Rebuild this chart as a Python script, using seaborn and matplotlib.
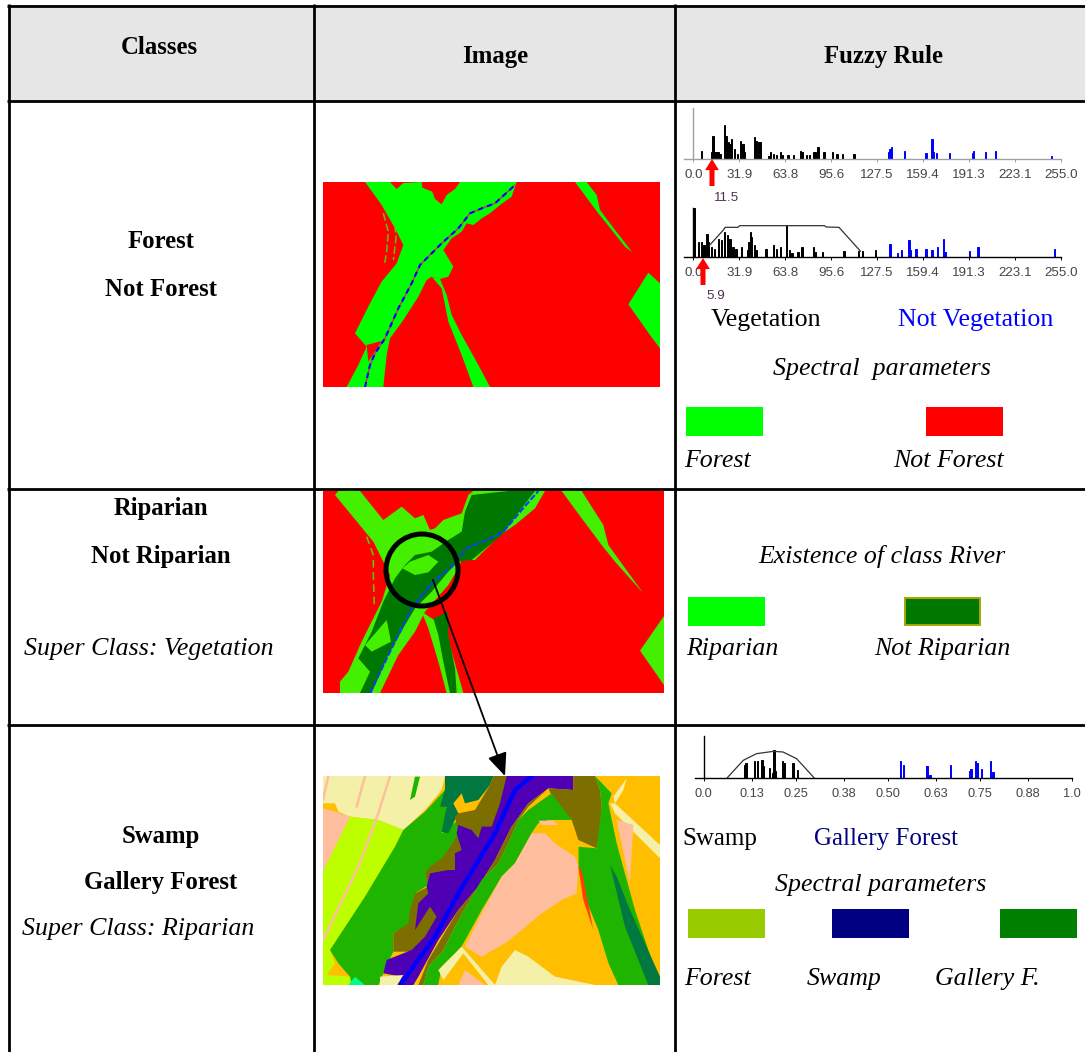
import matplotlib
matplotlib.use("Agg")
import matplotlib.pyplot as plt
from matplotlib.patches import Rectangle, Circle, FancyArrowPatch
from matplotlib.transforms import ScaledTranslation
import seaborn as sb

W, H = 1085, 1052

# histogram values
hist1_black_x = [5, 12, 13, 14, 15, 16, 17, 18, 21, 22, 23, 24, 25, 26, 28, 30, 32, 34, 35, 42, 43, 45, 46,
                 52, 53, 55, 57, 60, 61, 65, 69, 74, 75, 78, 80, 83, 84, 86, 90, 96, 99, 103, 111]
hist1_black_y = [25, 20, 70, 20, 20, 20, 20, 15, 100, 70, 45, 50, 45, 60, 30, 15, 55, 45, 20, 65, 55, 50, 50,
                 10, 20, 15, 12, 22, 12, 12, 12, 25, 22, 12, 12, 20, 22, 35, 22, 20, 14, 15, 14]
hist1_blue_x = [135, 136, 137, 146, 161, 165, 166, 168, 177, 193, 194, 202, 209, 248]
hist1_blue_y = [20, 30, 35, 25, 18, 60, 20, 18, 18, 18, 25, 22, 25, 10]

hist2_black_x = [0, 3, 5, 7, 9, 10, 12, 14, 17, 19, 21, 23, 25, 27, 29, 33, 37, 38, 39, 40, 42, 43,
                 50, 55, 57, 60, 64, 66, 68, 72, 75, 83, 84, 89, 104, 114, 117, 126]
hist2_black_y = [147, 45, 45, 35, 70, 45, 30, 25, 55, 50, 75, 65, 55, 30, 25, 30, 20, 45, 75, 60, 35, 20,
                 25, 35, 25, 30, 95, 20, 12, 15, 30, 30, 15, 15, 18, 18, 18, 22]
hist2_blue_x = [136, 141, 144, 149, 150, 154, 161, 165, 169, 173, 174, 191, 197, 250]
hist2_blue_y = [40, 12, 20, 50, 20, 25, 25, 20, 30, 55, 15, 18, 30, 25]
fuzzy2_x = [11, 21, 22, 31, 32, 91, 92, 101, 116]
fuzzy2_y = [34, 82, 89, 89, 94, 94, 90, 89, 17]

hist3_black_x = [.11, .114, .138, .147, .157, .161, .177, .184, .19, .194, .214, .217, .241, .253]
hist3_black_y = [40, 45, 50, 50, 55, 35, 30, 15, 85, 20, 50, 45, 45, 25]
hist3_blue_x = [.535, .54, .543, .606, .612, .668, .722, .727, .736, .74, .754, .776, .784]
hist3_blue_y = [50, 30, 10, 35, 10, 40, 20, 28, 50, 45, 28, 50, 18]
fuzzy3_x = [.063, .107, .143, .189, .215, .252, .30]
fuzzy3_y = [0, 53, 73, 80, 78, 58, 0]

ticks_255 = [0.0, 31.9, 63.8, 95.6, 127.5, 159.4, 191.3, 223.1, 255.0]
ticks_one = [0.0, 0.13, 0.25, 0.38, 0.50, 0.63, 0.75, 0.88, 1.0]
labels_one = ["0.0", "0.13", "0.25", "0.38", "0.50", "0.63", "0.75", "0.88", "1.0"]

# map regions: (colour, outline)
map1_layers = [
    ("#00ff00", [(150, 21), (225, 21), (245, 42), (265, 24), (320, 21), (322, 38), (352, 50), (360, 72), (380, 88),
                 (395, 60), (420, 42), (435, 21), (605, 21), (590, 65), (555, 90), (525, 115), (500, 130),
                 (475, 150), (455, 145), (440, 170), (410, 190), (385, 225), (415, 275), (400, 305), (375, 312),
                 (350, 305), (335, 315), (310, 365), (265, 435), (225, 490), (215, 540), (205, 636), (95, 636),
                 (130, 570), (155, 515), (120, 475), (165, 385), (200, 320), (245, 265), (265, 210), (240, 160),
                 (200, 90), (175, 55)]),
    ("#00ff00", [(350, 305), (375, 312), (395, 360), (410, 420), (440, 480), (490, 570), (525, 636), (475, 636),
                 (440, 540), (400, 440), (380, 340)]),
    ("#ff0000", [(155, 510), (200, 498), (180, 530), (160, 560)]),
    ("#00ff00", [(780, 21), (815, 21), (845, 60), (855, 105), (900, 165), (952, 232), (930, 215), (850, 115)]),
    ("#00ff00", [(1000, 293), (1035, 325), (1035, 520), (1005, 480), (940, 388)]),
]
map1_river = [(150, 636), (165, 570), (180, 535), (210, 490), (250, 400), (290, 325), (315, 270), (380, 205),
              (430, 160), (465, 115), (500, 100), (540, 85), (600, 30)]
map1_dashes = [[(205, 115), (220, 170), (215, 230), (208, 270)], [(240, 150), (243, 190), (235, 255)]]

map2_layers = [
    ("#44f000", [(60, 30), (70, 18), (135, 18), (205, 105), (260, 65), (300, 100), (325, 90), (345, 135), (360, 130),
                 (385, 105), (440, 85), (460, 30), (475, 18), (690, 18), (660, 70), (600, 120), (555, 150),
                 (480, 225), (440, 225), (430, 250), (400, 300), (330, 380), (300, 440), (250, 510), (195, 624),
                 (75, 624), (75, 590), (100, 560), (140, 470), (200, 350), (225, 270), (175, 170)]),
    ("#44f000", [(320, 380), (350, 400), (385, 420), (410, 500), (445, 624), (395, 624), (370, 530), (340, 430)]),
    ("#007800", [(470, 30), (580, 18), (660, 18), (620, 70), (560, 150), (470, 225), (430, 230), (400, 260),
                 (350, 320), (300, 370), (270, 420), (220, 510), (170, 624), (135, 624), (165, 560), (130, 520),
                 (170, 440), (205, 350), (240, 280), (270, 240), (300, 210), (350, 200), (400, 165), (440, 140),
                 (450, 80)]),
    ("#44f000", [(285, 230), (340, 210), (370, 230), (340, 262), (300, 270), (262, 250)]),
    ("#44f000", [(150, 480), (215, 405), (228, 470), (170, 500)]),
    ("#007800", [(355, 400), (400, 380), (400, 450), (420, 550), (425, 624), (405, 624), (385, 530), (370, 450)]),
    ("#44f000", [(740, 18), (800, 18), (865, 120), (880, 180), (985, 325), (900, 230), (860, 180), (800, 100)]),
    ("#44f000", [(1047, 393), (975, 497), (1047, 600)]),
]
map2_river = [(165, 624), (230, 490), (290, 370), (350, 295), (410, 245), (455, 190), (530, 158), (565, 140),
              (620, 75), (670, 18)]
map2_dashes = [[(155, 155), (175, 210), (175, 270), (178, 365)]]

map3_layers = [
    ("#f5f0a8", [(24, 18), (390, 18), (380, 60), (330, 120), (265, 180), (190, 150), (105, 140), (70, 125), (60, 100),
                 (24, 100)]),
    ("#ffbe9e", [(24, 115), (60, 125), (105, 140), (24, 305)]),
    ("#beff00", [(105, 140), (190, 150), (265, 180), (240, 230), (150, 380), (45, 540), (60, 580), (35, 615),
                 (110, 620), (105, 645), (24, 645), (24, 305)]),
    ("#1eb400", [(45, 540), (150, 380), (240, 230), (265, 180), (330, 125), (390, 60), (395, 120), (380, 190),
                 (430, 150), (450, 140), (440, 200), (420, 240), (330, 310), (340, 345), (300, 370), (285, 460),
                 (235, 490), (235, 545), (205, 610), (190, 645), (110, 645), (105, 620), (70, 580)]),
    ("#1eb400", [(300, 20), (315, 20), (300, 80), (285, 90)]),
    ("#007840", [(390, 18), (535, 18), (525, 45), (490, 90), (450, 100), (440, 70), (415, 100), (430, 130), (400, 190),
                 (380, 185), (395, 110), (375, 110), (390, 60)]),
    # olive band then purple on top of it
    ("#7d6e00", [(535, 18), (600, 18), (540, 190), (430, 370), (350, 500), (290, 545), (235, 545), (235, 490),
                 (280, 460), (285, 420), (300, 370), (340, 350), (330, 310), (345, 290), (380, 265), (400, 240),
                 (430, 190), (420, 140), (430, 130), (480, 120), (525, 45)]),
    ("#5000b4", [(575, 18), (775, 18), (775, 60), (700, 55), (640, 100), (590, 170), (540, 270), (490, 350),
                 (430, 420), (370, 510), (310, 620), (295, 645), (250, 645), (260, 620), (205, 610), (215, 570),
                 (290, 540), (330, 500), (365, 440), (345, 410), (300, 480), (310, 400), (340, 370), (335, 350),
                 (345, 310), (400, 300), (420, 300), (420, 250), (440, 240), (425, 190), (430, 165), (470, 180),
                 (490, 205), (500, 170), (530, 170), (555, 100)]),
    ("#7d6e00", [(700, 55), (640, 110), (610, 150), (580, 220), (550, 280), (500, 330), (465, 390), (420, 470),
                 (385, 540), (340, 590), (325, 645), (310, 645), (340, 570), (400, 470), (430, 420), (490, 350),
                 (540, 270), (590, 170), (640, 100)]),
    ("#7d6e00", [(775, 18), (840, 18), (855, 60), (860, 110), (860, 150), (845, 235), (790, 210), (770, 150),
                 (720, 100), (700, 55), (775, 60)]),
    ("#1eb400", [(840, 18), (890, 70), (880, 100), (905, 220), (960, 420), (1035, 645), (910, 645), (830, 470),
                 (800, 370), (790, 290), (790, 230), (845, 235), (860, 110), (855, 60)]),
    ("#1eb400", [(640, 120), (710, 70), (770, 150), (700, 150), (670, 160), (650, 190), (600, 280), (560, 320),
                 (500, 420), (440, 530), (385, 590), (370, 645), (325, 645), (340, 590), (385, 540), (420, 470),
                 (465, 390), (500, 330), (550, 280), (580, 220), (610, 150)]),
    ("#ffbe00", [(650, 190), (670, 160), (740, 165), (790, 230), (790, 290), (805, 370), (850, 480), (900, 645),
                 (370, 645), (380, 590), (440, 530), (500, 430), (560, 320), (600, 280)]),
    ("#ffbe9e", [(670, 152), (715, 152), (730, 165), (680, 165)]),
    ("#ffbe9e", [(690, 190), (720, 220), (780, 260), (790, 290), (785, 370), (740, 390), (680, 430), (620, 480),
                 (570, 520), (500, 560), (450, 530), (500, 430), (560, 320), (600, 280), (650, 190)]),
    ("#f5f0a8", [(540, 645), (560, 590), (600, 540), (640, 560), (720, 620), (840, 645)]),
    ("#f5f0a8", [(370, 600), (440, 530), (540, 645), (520, 645), (445, 550), (385, 630)]),
    ("#ffbe9e", [(450, 600), (510, 645), (430, 645)]),
    ("#f5f0a8", [(885, 100), (900, 100), (1035, 225), (1035, 265), (900, 130)]),
    ("#f5f0a8", [(895, 80), (935, 25), (925, 60), (900, 100)]),
    ("#ffbe9e", [(905, 150), (955, 165), (945, 340)]),
    ("#ff4000", [(790, 290), (800, 300), (835, 480), (805, 390)]),
    ("#007840", [(885, 285), (905, 320), (945, 420), (1035, 620), (1035, 645), (1000, 645), (930, 470)]),
    ("#f5f0a8", [(195, 620), (265, 615), (245, 645), (195, 645)]),
    ("#00ff80", [(100, 645), (120, 620), (150, 645)]),
]
map3_stripes = [[(40, 18), (24, 90)], [(150, 18), (125, 110)], [(225, 18), (190, 130), (130, 290), (24, 510)]]
map3_river = [(255, 645), (360, 500), (430, 370), (540, 190), (600, 60), (650, 18)]

sb.set_theme(style="white", rc={"axes.grid": False})
plt.rcParams["font.family"] = ["Liberation Serif", "DejaVu Serif"]

fig = plt.figure(figsize=(W / 100, H / 100), dpi=100)


def box_axes(left, top, right, bottom, z=2):
    ax = fig.add_axes([left / W, 1 - bottom / H, (right - left) / W, (bottom - top) / H], zorder=z)
    return ax


def xs_ys(points):
    return [p[0] for p in points], [p[1] for p in points]


page = box_axes(0, 0, W, H, z=1)
page.set_xlim(0, W)
page.set_ylim(H, 0)
page.axis("off")

over = box_axes(0, 0, W, H, z=5)
over.set_xlim(0, W)
over.set_ylim(H, 0)
over.axis("off")

# table frame
page.add_patch(Rectangle((9, 5), W - 9, 96, color="#e6e6e6", lw=0))
for y in (5.5, 101, 489, 725):
    page.plot([7, W], [y, y], color="black", lw=2.0, solid_capstyle="butt")
for x in (8.5, 314, 675):
    page.plot([x, x], [4, H], color="black", lw=2.0, solid_capstyle="butt")


def txt(x, y, s, bold=False, italic=False, color="black", size=None, ha="center"):
    if size is None:
        size = 17.8 if bold else 18
    page.text(x, y + 2, s, ha=ha, va="center", color=color, fontsize=size,
              fontweight="bold" if bold else "normal", fontstyle="italic" if italic else "normal")


txt(159, 46, "Classes", bold=True)
txt(495, 54, "Image", bold=True)
txt(883, 54, "Fuzzy Rule", bold=True)

txt(161, 240, "Forest", bold=True)
txt(161, 288, "Not Forest", bold=True)
txt(161, 507, "Riparian", bold=True)
txt(161, 555, "Not Riparian", bold=True)
txt(149, 647, "Super Class: Vegetation", italic=True, size=18.6)
txt(161, 835, "Swamp", bold=True)
txt(161, 881, "Gallery Forest", bold=True)
txt(138, 927, "Super Class: Riparian", italic=True, size=18.6)

txt(766, 318, "Vegetation", size=18.6)
txt(976, 318, "Not Vegetation", color="#0000ff", size=18.6)
txt(882, 367, "Spectral  parameters", italic=True, size=18.6)
txt(718, 459, "Forest", italic=True, size=18.6)
txt(949, 459, "Not Forest", italic=True, size=18.6)
txt(882, 555, "Existence of class River", italic=True, size=18.6)
txt(732, 647, "Riparian", italic=True, size=18.6)
txt(942, 647, "Not Riparian", italic=True, size=18.6)
txt(720, 837, "Swamp")
txt(886, 837, "Gallery Forest", color="#000080")
txt(881, 883, "Spectral parameters", italic=True, size=18.6)
txt(718, 977, "Forest", italic=True, size=18.6)
txt(844, 977, "Swamp", italic=True, size=18.6)
txt(987, 977, "Gallery F.", italic=True, size=18.6)

# legend swatches
page.add_patch(Rectangle((686, 407), 77, 29, color="#00ff00", lw=0))
page.add_patch(Rectangle((926, 407), 77, 29, color="#ff0000", lw=0))
page.add_patch(Rectangle((688, 597), 77, 29, color="#00ff00", lw=0))
page.add_patch(Rectangle((905, 598), 75, 27, facecolor="#007800", edgecolor="#a8a800", lw=1.4))
page.add_patch(Rectangle((688, 909), 77, 29, color="#99cc00", lw=0))
page.add_patch(Rectangle((832, 909), 77, 29, color="#000080", lw=0))
page.add_patch(Rectangle((1000, 909), 77, 29, color="#008000", lw=0))


def draw_map(box, x0, x1, y0, y1, back, layers):
    ax = box_axes(*box)
    ax.set_xlim(x0, x1)
    ax.set_ylim(y1, y0)
    ax.set_facecolor(back)
    ax.set_xticks([])
    ax.set_yticks([])
    for s in ax.spines.values():
        s.set_visible(False)
    for colour, outline in layers:
        px, py = xs_ys(outline)
        ax.fill(px, py, color=colour, lw=0)
    return ax


m1 = draw_map((323, 182, 660, 387), 24, 1035, 21, 636, "#ff0000", map1_layers)
for d in map1_dashes:
    m1.plot(*xs_ys(d), color="#55c800", lw=1.1, ls=(0, (5, 2)))
m1.plot(*xs_ys(map1_river), color="#c04040", lw=1.1)
m1.plot(*xs_ys(map1_river), color="#0000ff", lw=1.5, ls=(0, (2.5, 2)))

m2 = draw_map((323, 491, 664, 693), 24, 1047, 18, 624, "#ff0000", map2_layers)
for d in map2_dashes:
    m2.plot(*xs_ys(d), color="#55d000", lw=1.1, ls=(0, (5, 3)))
m2.plot(*xs_ys(map2_river), color="#0040ff", lw=1.5, ls=(0, (3, 1)))

m3 = draw_map((323, 776, 660, 985), 24, 1035, 18, 645, "#ffbe00", map3_layers)
for d in map3_stripes:
    m3.plot(*xs_ys(d), color="#ffbe9e", lw=1.8, zorder=1.5)
m3.plot(*xs_ys(map3_river), color="#0000ff", lw=3.2)


def spike_hist(box, xlim, ymax, ticks, labels, black, blue, binw, axis_colour="black", fuzzy=None, tick_size=9.6):
    ax = box_axes(*box, z=3)
    ax.patch.set_alpha(0)
    lo = min(ticks)
    hi = max(ticks)
    sb.histplot(x=black[0], weights=black[1], binwidth=binw, binrange=(lo, hi), color="black",
                alpha=1, edgecolor="black", linewidth=0.7, ax=ax)
    sb.histplot(x=blue[0], weights=blue[1], binwidth=binw, binrange=(lo, hi), color="#0000ff",
                alpha=1, edgecolor="#0000ff", linewidth=0.7, ax=ax)
    if fuzzy is not None:
        sb.lineplot(x=fuzzy[0], y=fuzzy[1], color="#333333", lw=0.9, ax=ax, estimator=None, sort=False)
    ax.set_xlim(*xlim)
    ax.set_ylim(0, ymax)
    ax.set_xlabel("")
    ax.set_ylabel("")
    ax.set_yticks([])
    ax.set_xticks(ticks)
    ax.set_xticklabels(labels, fontsize=tick_size, family="Liberation Sans", color="#454545")
    nudge = ScaledTranslation(2 / 72, 0, fig.dpi_scale_trans)
    for lab in ax.get_xticklabels():
        lab.set_transform(lab.get_transform() + nudge)
    ax.tick_params(axis="x", length=2.5, width=0.7, color=axis_colour, pad=4.5, bottom=True)
    for name in ("top", "right"):
        ax.spines[name].set_visible(False)
    ax.spines["bottom"].set_color(axis_colour)
    ax.spines["bottom"].set_linewidth(1.0)
    ax.spines["left"].set_position(("data", 0))
    ax.spines["left"].set_color(axis_colour)
    ax.spines["left"].set_linewidth(1.0)
    return ax


labels_255 = ["%.1f" % t for t in ticks_255]
spike_hist((684, 108, 1061, 159), (-6.5, 255), 152, ticks_255, labels_255,
           (hist1_black_x, hist1_black_y), (hist1_blue_x, hist1_blue_y), 1, axis_colour="#a0a0a0")
spike_hist((684, 208, 1061, 257), (-6.5, 255), 147, ticks_255, labels_255,
           (hist2_black_x, hist2_black_y), (hist2_blue_x, hist2_blue_y), 1, fuzzy=(fuzzy2_x, fuzzy2_y))
spike_hist((695, 736, 1072, 778), (-0.024, 1.0), 126, ticks_one, labels_one,
           (hist3_black_x, hist3_black_y), (hist3_blue_x, hist3_blue_y), 0.004, fuzzy=(fuzzy3_x, fuzzy3_y),
           tick_size=9.2)

# threshold markers
for x, top, bottom, lab, lab_x, lab_y in ((712, 159, 186, "11.5", 727, 198), (703, 258, 285, "5.9", 716, 296)):
    over.add_patch(FancyArrowPatch((x, bottom), (x, top), arrowstyle="simple,head_width=10,head_length=8,tail_width=3.6",
                                   color="#ff0000", lw=0, shrinkA=0, shrinkB=0))
    over.text(lab_x, lab_y, lab, ha="center", va="center", fontsize=9.6, family="Liberation Sans", color="#503050")

# zoom circle and arrow to the detail map
over.add_patch(Circle((422, 570), 36, facecolor="none", edgecolor="black", lw=3.6))
over.add_patch(FancyArrowPatch((433, 580), (505, 776), arrowstyle="-|>,head_width=6,head_length=14",
                               color="black", lw=1.3, shrinkA=0, shrinkB=0))

plt.savefig("out.png", dpi=100)
